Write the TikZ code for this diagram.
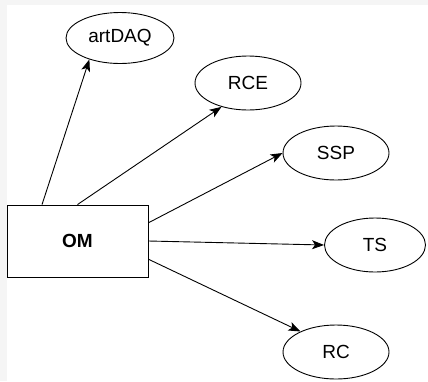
\documentclass[tikz,border=0pt]{standalone}
\usepackage{fontspec}
\setmainfont{Liberation Sans}
\usetikzlibrary{arrows.meta,calc,shapes.geometric}

\begin{document}
\begin{tikzpicture}[x=1pt,y=-1pt,
  comp/.style={draw,ellipse,line width=0.9pt,minimum width=106pt,minimum height=54pt,inner sep=0pt,font=\fontsize{19}{22}\selectfont},
  mgr/.style={draw,line width=0.9pt,minimum width=141pt,minimum height=72pt,font=\bfseries\fontsize{19}{22}\selectfont},
  link/.style={-{Stealth[length=12pt,width=9pt,inset=3pt]},line width=0.9pt}]

\fill[black!4] (0,0) rectangle (428,381);
\fill[white] (7,5) rectangle (428,381);
\useasboundingbox (0,0) rectangle (428,381);

\node[mgr] (om) at (77.5,241) {OM};

\node[comp,minimum width=108pt,minimum height=51pt] (artdaq) at (120,38) {artDAQ};
\node[comp] (rce) at (248,83) {RCE};
\node[comp] (ssp) at (336,153) {SSP};
\node[comp,minimum width=101pt] (ts) at (375,245) {TS};
\node[comp] (rc) at (336,352) {RC};

\draw[link] ($(om.north west)!0.25!(om.north east)$) -- (artdaq.215);
\draw[link] (om.north) -- (rce.222);
\draw[link] ($(om.north east)!0.25!(om.south east)$) -- (ssp.west);
\draw[link] (om.east) -- (ts.west);
\draw[link] ($(om.north east)!0.75!(om.south east)$) -- (rc.150);

\end{tikzpicture}
\end{document}
